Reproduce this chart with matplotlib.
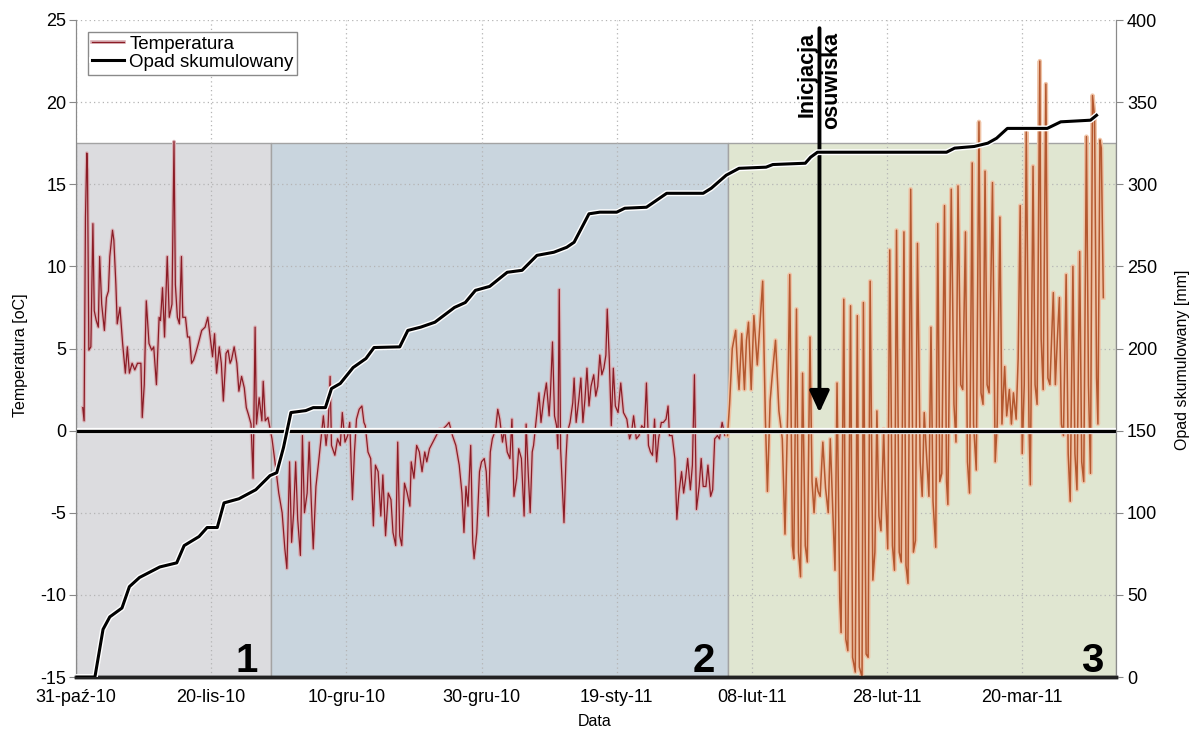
import numpy as np
import pandas as pd
import matplotlib
matplotlib.use('Agg')
import matplotlib.pyplot as plt
import matplotlib.patheffects as pe
import matplotlib.transforms as mtransforms

plt.rcParams['font.family'] = ['Liberation Sans', 'DejaVu Sans']
plt.rcParams['axes.unicode_minus'] = False

start = pd.Timestamp('2010-10-31')

# temperatura: (dni od 31-paź-10, wartość oC)
temp_days = [
    1.0, 1.2, 1.4, 1.6, 1.7, 1.9, 2.2, 2.5, 2.7, 3.0, 3.3, 3.5, 3.8, 4.2, 4.5, 4.8, 5.0, 5.4, 5.6, 5.9,
    6.1, 6.5, 6.9, 7.3, 7.6, 7.9, 8.3, 8.7, 9.1, 9.6, 9.8, 10.1, 10.4, 10.8, 11.2, 11.5, 11.9, 12.3, 12.5, 12.8,
    13.1, 13.5, 13.8, 14.2, 14.5, 14.7, 15.0, 15.3, 15.6, 15.8, 16.2, 16.5, 16.8, 17.1, 17.4, 17.7, 18.1, 18.6, 19.1, 19.5,
    19.9, 20.2, 20.5, 20.8, 21.2, 21.5, 21.8, 22.2, 22.5, 22.8, 23.0, 23.4, 23.8, 24.1, 24.5, 24.9, 25.2, 25.5, 25.9, 26.2,
    26.5, 26.7, 27.1, 27.5, 27.7, 28.0, 28.4,
    29.0, 29.5, 30.0, 30.5, 30.9, 31.2, 31.6, 31.9, 32.2, 32.5, 32.8, 33.2, 33.5, 33.8, 34.2, 34.5, 34.8, 35.1, 35.5, 35.9,
    36.3, 36.6, 37.0, 37.3, 37.6, 37.8, 38.3, 38.7, 39.1, 39.4, 39.8, 40.2, 40.5, 40.9, 41.2, 41.5, 41.9, 42.3, 42.6, 42.8,
    43.2, 43.6, 44.0, 44.3, 44.7, 45.1, 45.4, 45.8, 46.2, 46.6, 46.9, 47.3, 47.6, 47.9, 48.2, 48.6, 49.0, 49.4, 49.6, 50.0,
    50.4, 50.8, 51.2, 51.6, 51.9, 52.3, 52.8, 53.3, 53.8, 54.3, 54.8, 55.2, 55.7, 56.2, 56.7, 57.1, 57.4, 57.7, 58.0, 58.4,
    58.7, 58.9, 59.3, 59.7, 60.0, 60.4, 60.7, 61.0, 61.3, 61.6, 62.1,
    62.4, 62.7, 63.1, 63.4, 63.8, 64.2, 64.5, 64.8, 65.2, 65.5, 65.9, 66.3, 66.6, 66.9, 67.2, 67.5, 67.7, 68.1, 68.5, 68.8,
    69.2, 69.6, 70.0, 70.2, 70.5, 70.8, 71.1, 71.3, 71.5, 71.7, 72.0, 72.2, 72.5, 72.7, 73.1, 73.5, 73.7, 74.0, 74.4, 74.7,
    75.0, 75.3, 75.6, 75.9, 76.2, 76.6, 76.9, 77.2, 77.5, 77.8, 78.1, 78.4, 78.6, 78.9, 79.2, 79.5, 79.8, 80.2, 80.6, 81.0,
    81.5, 81.9, 82.2, 82.5, 82.9, 83.3, 83.7, 84.1, 84.4, 84.7, 85.0, 85.3, 85.6, 85.9, 86.2, 86.6, 86.9, 87.3, 87.6, 87.8,
    88.2, 88.6, 88.9, 89.2, 89.6, 89.9, 90.2, 90.5, 90.9, 91.2, 91.5, 91.8, 92.2, 92.5, 92.8, 93.2, 93.5, 93.9, 94.2, 94.5,
    94.9, 95.2, 95.6, 96.0,
    96.4, 96.7, 97.1, 97.6, 97.9, 98.1, 98.5, 98.9, 99.2, 99.5, 99.9, 100.3, 100.8, 101.6, 102.0, 102.3, 102.7, 103.0, 103.5, 104.0,
    104.5, 104.9, 105.3, 105.6, 106.0, 106.2, 106.6, 106.9, 107.2, 107.5, 107.9, 108.2, 108.6, 108.9, 109.2, 109.5, 109.8, 110.1, 110.5, 110.9,
    111.3, 111.6, 112.0, 112.3, 112.6, 113.0, 113.2, 113.6, 113.9, 114.2, 114.6, 114.9, 115.3, 115.6, 115.9, 116.3, 116.5, 116.9, 117.2, 117.5,
    117.9, 118.2, 118.5, 118.8, 119.1, 119.5, 119.7, 120.1, 120.4, 120.8, 121.1, 121.4, 121.8, 122.1, 122.5, 122.8, 123.1, 123.5, 123.9, 124.2,
    124.5,
    124.9, 125.2, 125.5, 125.8, 126.2, 126.5, 126.8, 127.2, 127.5, 127.8, 128.1, 128.5, 128.8, 129.0, 129.5, 129.9, 130.2, 130.5, 130.9, 131.2,
    131.6, 131.9, 132.2, 132.6, 132.8, 133.2, 133.6, 133.9, 134.2, 134.5, 134.8, 135.1, 135.6, 136.0, 136.3, 136.7, 137.0, 137.4, 137.7, 138.1,
    138.4, 138.7, 139.1, 139.4, 139.7, 140.0, 140.3, 140.6, 141.0, 141.2, 141.6, 141.9, 142.2, 142.6, 142.8, 143.1, 143.5, 143.8, 144.1, 144.6,
    144.9, 145.2, 145.5, 145.8, 146.1, 146.5, 146.8, 147.1, 147.5, 147.8, 148.1, 148.5, 148.8, 149.1, 149.5, 149.8, 150.1, 150.4, 150.7, 151.0,
    151.2, 151.5, 151.7, 152.0,
]
temp_vals = [
    1.4, 0.6, 13.0, 16.9, 15.9, 4.9, 5.1, 12.6, 7.3, 6.7, 6.3, 10.6, 7.7, 6.1, 8.1, 8.5, 10.6, 12.2, 11.6, 8.9,
    6.5, 7.5, 5.3, 3.5, 5.1, 3.5, 4.1, 3.7, 4.1, 4.1, 0.8, 2.8, 7.9, 5.3, 4.9, 5.1, 2.8, 6.9, 6.7, 8.7,
    5.7, 10.6, 6.9, 7.7, 17.6, 8.9, 6.9, 6.5, 10.6, 6.9, 6.9, 5.7, 5.7, 4.1, 4.3, 4.7, 5.3, 6.1, 6.3, 6.9,
    5.5, 4.5, 5.9, 3.5, 5.1, 4.1, 1.8, 4.7, 4.9, 4.1, 4.3, 5.1, 4.1, 2.4, 3.3, 2.6, 1.4, 1.0, 0.4, -2.9,
    6.3, 0.4, 2.0, 0.6, 3.0, 0.6, 0.8,
    -0.5, -2.1, -3.8, -5.0, -7.2, -8.4, -1.9, -6.8, -5.0, -1.9, -5.4, -7.6, -0.3, -5.0, -3.8, -0.7, -4.2, -7.2, -3.4, -1.9,
    -0.3, 0.9, -0.9, 0.3, 3.3, -0.9, -1.5, -0.5, -0.9, 1.1, -0.7, -0.3, 0.5, -4.2, -1.3, 0.7, 1.3, 1.5, 0.5, 0.3,
    -1.3, -1.7, -5.8, -2.1, -2.5, -5.2, -2.7, -6.4, -3.8, -4.2, -6.2, -7.0, -0.7, -6.4, -7.0, -3.2, -3.8, -4.6, -1.9, -2.9,
    -0.9, -1.3, -2.5, -1.3, -1.9, -1.1, -0.7, -0.3, 0.1, 0.1, 0.3, 0.5, -0.3, -0.9, -2.1, -3.8, -6.2, -3.4, -4.6, -0.9,
    -6.8, -7.8, -6.2, -2.5, -1.9, -1.7, -2.5, -5.2, -1.3, -0.5, 0.1,
    1.3, 0.7, -0.7, 0.1, -1.3, -1.7, 0.7, -4.0, -2.9, -1.1, -1.7, -5.2, 0.4, -2.5, -5.0, -1.3, -0.9, 0.7, 2.3, 0.5,
    1.9, 2.9, 0.9, 2.3, 5.4, 0.9, 0.3, -1.1, 8.6, -1.1, -3.8, -5.6, -1.7, -0.1, 0.5, 1.7, 3.2, 0.5, 1.9, 3.2,
    0.5, 1.9, 3.8, 1.5, 2.7, 3.4, 2.1, 2.7, 4.6, 3.4, 3.8, 4.6, 7.4, 4.4, 0.3, 3.8, 1.5, 1.1, 2.9, 1.1,
    0.7, -0.5, -0.1, 0.9, -0.5, -0.3, 0.3, 0.1, 2.9, -0.9, -1.3, -1.5, 0.7, -1.9, -0.5, 0.5, 0.5, 0.7, 1.5, -0.3,
    -0.3, -1.7, -5.4, -3.8, -2.5, -3.8, -2.9, -1.7, -3.6, -2.1, 3.4, -4.8, -3.4, -1.7, -3.4, -3.4, -2.1, -4.0, -3.6, -0.5,
    -0.3, -0.5, 0.5, -0.3,
    -0.3, 1.6, 5.0, 6.1, 3.7, 2.5, 5.9, 2.5, 5.5, 6.6, 2.5, 7.0, 4.0, 9.1, 0.7, -3.7, 1.8, 3.3, 5.5, 1.2,
    -0.5, -6.3, 1.2, 9.5, -7.0, -7.8, 7.4, -7.4, -8.9, 3.5, -7.0, -8.0, 5.7, -3.1, -5.0, -2.9, -3.7, -4.0, -0.7, -3.5,
    -5.0, -0.5, -5.2, -8.5, 2.9, -10.2, -12.3, 8.0, -12.7, -13.4, 7.6, -13.8, -14.7, 7.0, -14.4, -15.0, 7.8, -13.6, -13.8, 9.1,
    -9.1, -7.4, 1.2, -5.2, -6.1, 0.1, -3.1, -7.2, 11.0, -7.0, -8.5, 12.2, -7.4, -8.0, 12.1, -8.2, -9.3, 14.7, -7.4, -6.7,
    11.4,
    -1.9, -4.0, 1.1, -1.2, -4.0, 6.3, -4.3, -7.1, 12.6, -3.1, -2.6, 13.7, -3.1, -4.5, 14.7, 1.6, -0.7, 14.9, 2.8, 2.5,
    12.1, -1.9, -3.8, 16.3, 0.4, -2.4, 18.8, 2.3, 1.6, 15.8, 2.8, 2.3, 15.1, -1.9, 0.4, 13.0, 0.4, 3.9, 0.9, 2.5,
    0.4, 2.3, 0.7, 4.4, 13.7, -1.4, 2.8, 18.2, 0.4, -3.3, 16.1, 2.8, 1.6, 22.5, 5.6, 2.5, 21.1, 3.2, 2.8, 8.4,
    2.8, 5.6, 8.1, 0.4, -0.3, 9.5, -1.4, -4.3, 10.0, -1.4, -3.6, 10.9, -1.9, -3.1, 17.9, 2.8, -2.6, 20.4, 19.1, 3.2,
    0.4, 17.7, 17.2, 8.1,
]

# opad skumulowany [mm]
rain_days = [0.0, 2.8, 4.0, 5.0, 6.8, 7.9, 9.4, 12.4, 14.9, 16.0, 18.2, 19.4, 20.9, 21.9, 24.1, 26.6, 28.7, 29.7,
             30.7, 31.8, 34.0, 35.1, 36.9, 37.8, 39.1, 41.0, 42.9, 44.1, 47.9, 49.1, 51.0, 53.1, 56.0, 57.6, 59.1,
             61.2, 63.8, 66.0, 68.2, 70.7, 72.6, 73.7, 75.9, 77.5, 80.0, 81.2, 84.4, 87.4, 92.8, 94.0, 96.2, 98.1,
             102.1, 103.1, 107.9, 108.7, 109.7, 128.8, 130.0, 132.9, 134.9, 136.2, 137.8, 143.7, 145.7, 150.1, 151.0]
rain_vals = [0, 0, 29, 36.6, 42, 55, 60.6, 67, 69.5, 80, 85.5, 91, 91, 106, 108.5, 114, 122.6, 124.4,
             139.7, 161, 162.2, 164, 164, 175.6, 178.7, 188.4, 193.9, 200.6, 201, 211, 213, 216, 225, 228, 235.4,
             237.8, 246.4, 247.6, 256.7, 258.6, 261.6, 264.7, 282, 283, 283, 285.4, 286, 294.5, 294.5, 297.6, 305.5, 309.7,
             310.4, 312, 312.8, 316.5, 319.5, 319.5, 322, 323, 325, 328, 334, 334, 338, 339, 342]

tick_dates = ['2010-10-31', '2010-11-20', '2010-12-10', '2010-12-30', '2011-01-19', '2011-02-08', '2011-02-28', '2011-03-20']
tick_labels = ['31-paź-10', '20-lis-10', '10-gru-10', '30-gru-10', '19-sty-11', '08-lut-11', '28-lut-11', '20-mar-11']

period_bounds = ['2010-10-31 00:00', '2010-11-28 19:00', '2011-02-04 12:00', '2011-04-02 21:00']
period_labels = ['1', '2', '3']
period_colors = ['#dcdcdf', '#c9d5de', '#e0e6d1']
shade_top = 17.5

arrow_date = pd.Timestamp('2011-02-18')

temp_x = start + pd.to_timedelta(temp_days, unit='D')
rain_x = start + pd.to_timedelta(rain_days, unit='D')
bounds = pd.to_datetime(period_bounds, format='%Y-%m-%d %H:%M')

fig = plt.figure(figsize=(11.92, 7.37), dpi=100)
ax = fig.add_axes([76 / 1192, 60 / 737, 1040 / 1192, 657 / 737])
ax2 = ax.twinx()

# tla okresow
for i in range(3):
    ax.fill_between([bounds[i], bounds[i + 1]], -15, shade_top, facecolor=period_colors[i],
                    edgecolor='#a3a3a3', linewidth=1, zorder=1)
    ax.annotate(period_labels[i], xy=(bounds[i + 1], -15), xytext=(-13, 5), textcoords='offset pixels',
                ha='right', va='baseline', fontsize=29, fontweight='bold', zorder=6)

# temperatura
split = next(i for i, d in enumerate(temp_days) if d >= 96.4)
l_temp, = ax.plot(temp_x[:split + 1], temp_vals[:split + 1], color='#8b1c26', lw=0.9, zorder=3,
                  path_effects=[pe.Stroke(linewidth=2.6, foreground='#d9b0b5'), pe.Normal()])
ax.plot(temp_x[split:], temp_vals[split:], color='#b4582f', lw=1.1, zorder=3,
        path_effects=[pe.Stroke(linewidth=3.2, foreground='#efc3a6'), pe.Normal()])

ax.axhline(0, color='black', lw=2.4, zorder=4,
           path_effects=[pe.Stroke(linewidth=4.5, foreground='white'), pe.Normal()])

# opad
l_rain, = ax2.plot(rain_x, rain_vals, color='black', lw=2.2, zorder=5,
                   path_effects=[pe.Stroke(linewidth=4.2, foreground='white'), pe.Normal()])

# strzalka
ax.annotate('', xy=(arrow_date, 1.1), xytext=(arrow_date, 24.5),
            arrowprops=dict(arrowstyle='-|>,head_length=0.65,head_width=0.3', color='black', lw=2.8,
                            shrinkA=0, shrinkB=0, mutation_scale=20), zorder=8)
ax.annotate('Inicjacja', xy=(arrow_date, 24.3), xytext=(-12, 0), textcoords='offset pixels',
            rotation=90, ha='center', va='top', fontsize=15.5, fontweight='bold', zorder=8)
ax.annotate('osuwiska', xy=(arrow_date, 24.3), xytext=(12, 0), textcoords='offset pixels',
            rotation=90, ha='center', va='top', fontsize=15.5, fontweight='bold', zorder=8)

ax.set_xlim(start, bounds[-1])
ax.set_ylim(-15, 25)
ax2.set_ylim(0, 400)
ax.set_yticks(range(-15, 26, 5))
ax2.set_yticks(range(0, 401, 50))
ax.set_xticks(pd.to_datetime(tick_dates))
ax.set_xticklabels(tick_labels)
offset = mtransforms.ScaledTranslation(7 / 100, 0, fig.dpi_scale_trans)
for lab in ax.get_xticklabels():
    lab.set_transform(lab.get_transform() + offset)

ax.grid(True, color='#b4b4b4', linestyle=(0, (1, 2.5)), linewidth=0.9)
ax.tick_params(axis='x', length=0, labelsize=13, pad=9)
ax.tick_params(axis='y', length=5, color='#888888', labelsize=13, pad=2)
ax2.tick_params(axis='y', length=5, color='#888888', labelsize=13, pad=3)

for a in (ax, ax2):
    a.spines['top'].set_visible(False)
    a.spines['left'].set_color('#8a8a8a')
    a.spines['right'].set_color('#8a8a8a')
    a.spines['bottom'].set_color('#222222')
    a.spines['bottom'].set_linewidth(2.5)

leg = ax2.legend([l_temp, l_rain], ['Temperatura', 'Opad skumulowany'], loc='upper left',
                 bbox_to_anchor=(12 / 1040, 1 - 12 / 657), borderaxespad=0, fontsize=13.5,
                 handlelength=1.7, handletextpad=0.3, borderpad=0.2, labelspacing=0.05,
                 fancybox=False, framealpha=1)
leg.get_frame().set_edgecolor('#8a8a8a')
leg.get_frame().set_linewidth(1)

fig.text(21 / 1192, 1 - 355 / 737, 'Temperatura [oC]', rotation=90, ha='center', va='center', fontsize=11.5)
fig.text(1183 / 1192, 1 - 360 / 737, 'Opad skumulowany [mm]', rotation=90, ha='center', va='center', fontsize=11.5)
fig.text(595 / 1192, 1 - 722 / 737, 'Data', ha='center', va='center', fontsize=11.5)

fig.savefig('out.png', dpi=100)
